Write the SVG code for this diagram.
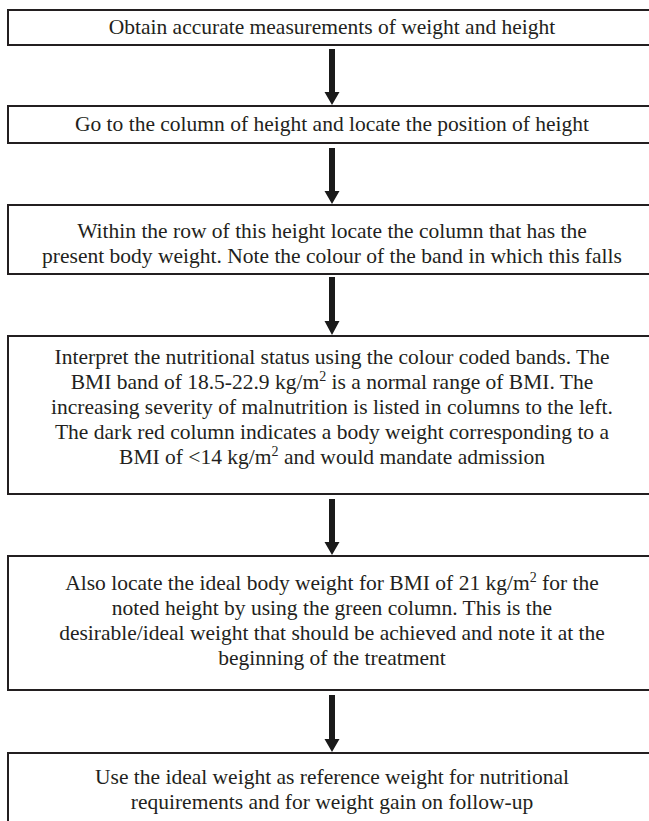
<svg xmlns="http://www.w3.org/2000/svg" width="649" height="821" viewBox="0 0 649 821">
<style>
.box{fill:#fff;stroke:#231f20;stroke-width:2}
.t{font-family:'Liberation Serif','Times New Roman',Times,'DejaVu Serif',serif;font-size:21.5px;fill:#231f20;text-anchor:middle}
.sup{font-size:14px}
.arr{fill:#1a1a1a}
</style>
<rect width="649" height="821" fill="#fff"/>
<g id="n1"><rect class="box" x="8" y="10" width="660" height="35"/>
<text class="t" x="332" y="34">Obtain accurate measurements of weight and height</text></g>
<g id="n2"><rect class="box" x="8" y="106" width="660" height="37"/>
<text class="t" x="332" y="131">Go to the column of height and locate the position of height</text></g>
<g id="n3"><rect class="box" x="8" y="205" width="660" height="69"/>
<text class="t" x="332" y="238">Within the row of this height locate the column that has the</text>
<text class="t" x="332" y="263">present body weight. Note the colour of the band in which this falls</text></g>
<g id="n4"><rect class="box" x="8" y="336" width="660" height="158"/>
<text class="t" x="332" y="364">Interpret the nutritional status using the colour coded bands. The</text>
<text class="t" x="332" y="389">BMI band of 18.5-22.9 kg/m<tspan class="sup" dy="-8">2</tspan><tspan dy="8"> is a normal range of BMI. The</tspan></text>
<text class="t" x="332" y="414">increasing severity of malnutrition is listed in columns to the left.</text>
<text class="t" x="332" y="439">The dark red column indicates a body weight corresponding to a</text>
<text class="t" x="332" y="464">BMI of &lt;14 kg/m<tspan class="sup" dy="-8">2</tspan><tspan dy="8"> and would mandate admission</tspan></text></g>
<g id="n5"><rect class="box" x="8" y="556" width="660" height="134"/>
<text class="t" x="332" y="590">Also locate the ideal body weight for BMI of 21 kg/m<tspan class="sup" dy="-8">2</tspan><tspan dy="8"> for the</tspan></text>
<text class="t" x="332" y="615">noted height by using the green column. This is the</text>
<text class="t" x="332" y="640">desirable/ideal weight that should be achieved and note it at the</text>
<text class="t" x="332" y="665">beginning of the treatment</text></g>
<g id="n6"><rect class="box" x="8" y="753" width="660" height="80"/>
<text class="t" x="332" y="784">Use the ideal weight as reference weight for nutritional</text>
<text class="t" x="332" y="809">requirements and for weight gain on follow-up</text></g>
<g id="connectors">
<path class="arr" d="M329,49 H335 V92 H339.5 L332,105 L324.5,92 H329 Z"/>
<path class="arr" d="M329,148 H335 V191 H339.5 L332,204 L324.5,191 H329 Z"/>
<path class="arr" d="M329,277 H335 V321 H339.5 L332,335 L324.5,321 H329 Z"/>
<path class="arr" d="M329,499 H335 V542 H339.5 L332,555 L324.5,542 H329 Z"/>
<path class="arr" d="M329,695 H335 V739 H339.5 L332,752 L324.5,739 H329 Z"/>
</g>
</svg>
